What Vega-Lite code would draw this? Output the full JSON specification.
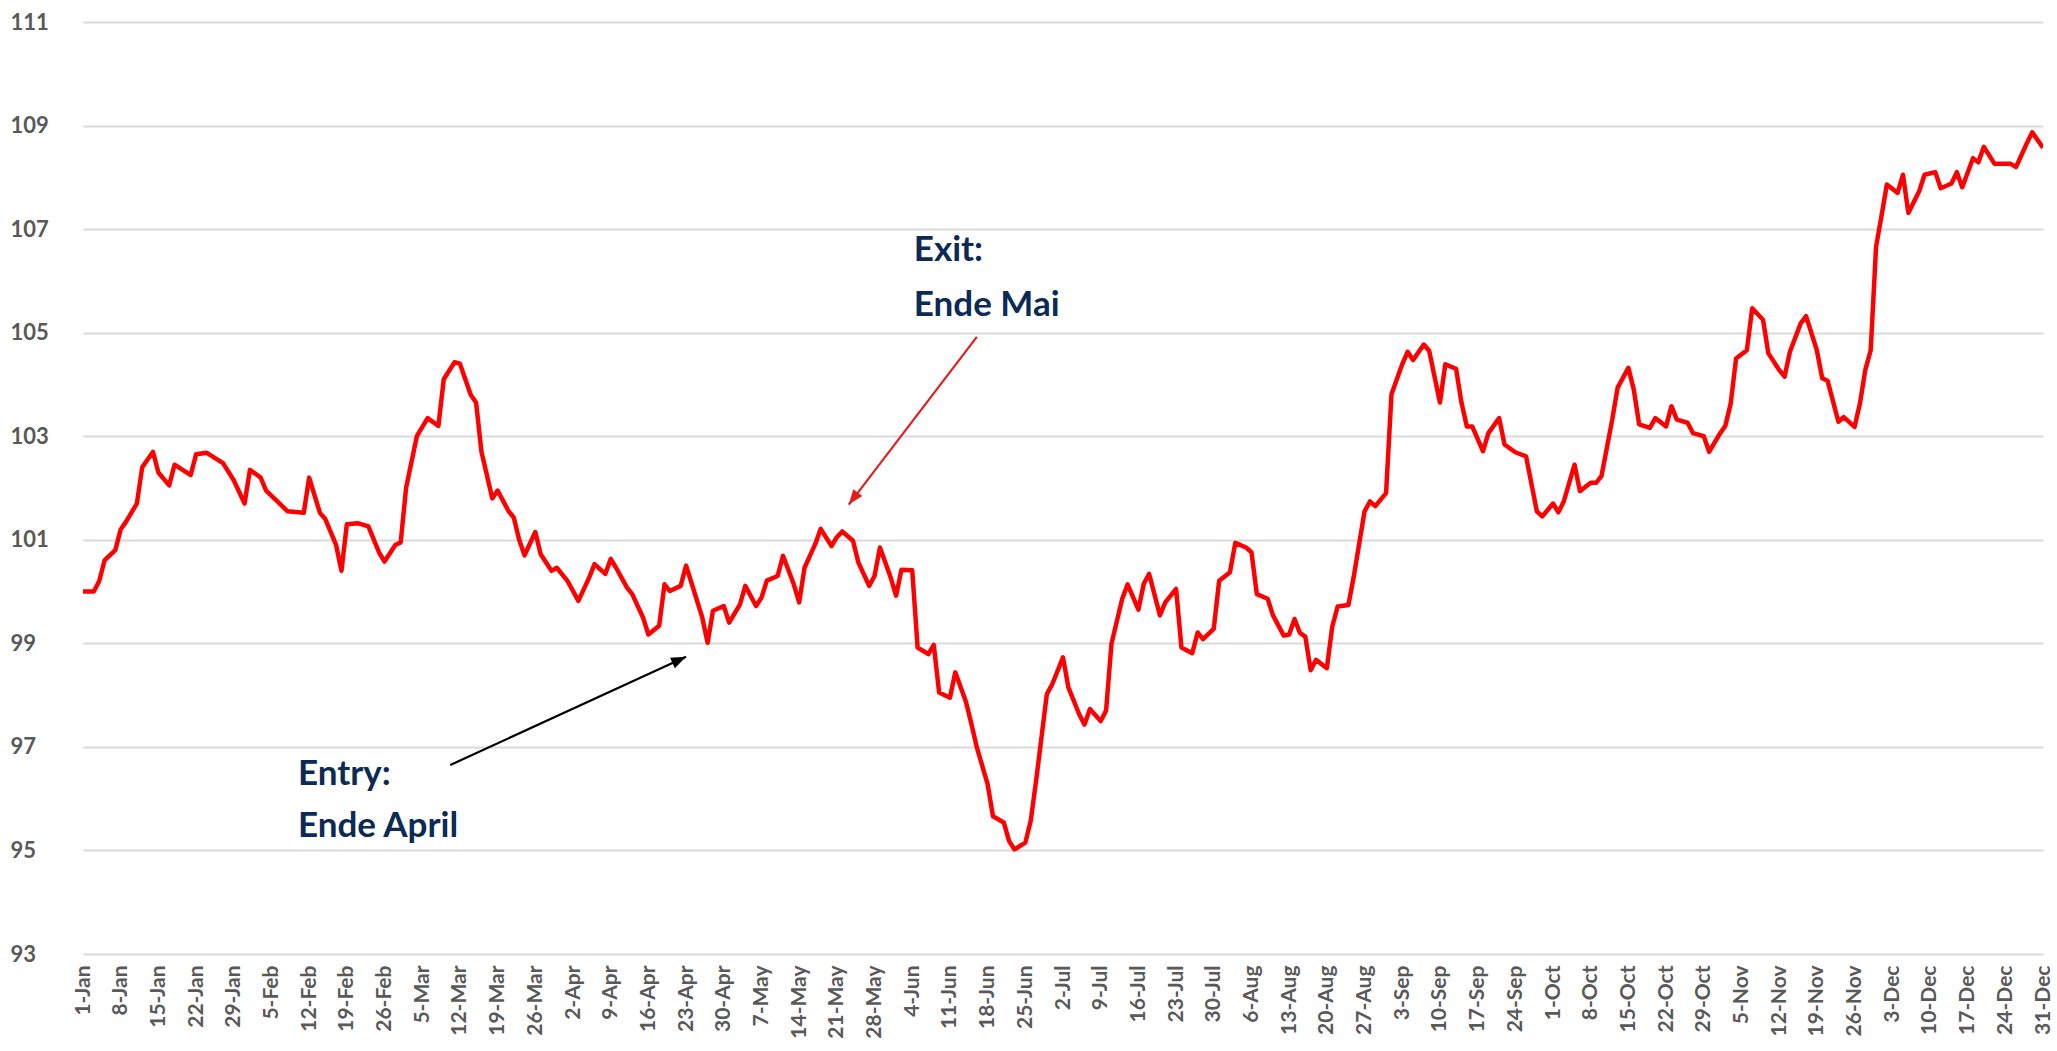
{
  "$schema": "https://vega.github.io/schema/vega-lite/v6.json",
  "width": 1960,
  "height": 932,
  "autosize": "none",
  "padding": {"left": 83, "top": 22, "right": 14, "bottom": 97},
  "background": "white",
  "config": {"view": {"stroke": null}, "axis": {"labelOverlap": false}},
  "layer": [
    {
      "data": {"values": [
        {"date":"2023-01-01","value":100.0},{"date":"2023-01-03","value":100.0},{"date":"2023-01-04","value":100.2},{"date":"2023-01-05","value":100.6},{"date":"2023-01-07","value":100.8},{"date":"2023-01-08","value":101.2},{"date":"2023-01-09","value":101.35},{"date":"2023-01-11","value":101.7},{"date":"2023-01-12","value":102.4},{"date":"2023-01-14","value":102.7},{"date":"2023-01-15","value":102.3},{"date":"2023-01-17","value":102.05},{"date":"2023-01-18","value":102.45},{"date":"2023-01-21","value":102.25},{"date":"2023-01-22","value":102.65},{"date":"2023-01-24","value":102.68},{"date":"2023-01-27","value":102.48},{"date":"2023-01-29","value":102.15},{"date":"2023-01-31","value":101.7},
        {"date":"2023-02-01","value":102.35},{"date":"2023-02-03","value":102.2},{"date":"2023-02-04","value":101.95},{"date":"2023-02-06","value":101.75},{"date":"2023-02-08","value":101.55},{"date":"2023-02-11","value":101.52},{"date":"2023-02-12","value":102.2},{"date":"2023-02-14","value":101.52},{"date":"2023-02-15","value":101.4},{"date":"2023-02-17","value":100.9},{"date":"2023-02-18","value":100.4},{"date":"2023-02-19","value":101.3},{"date":"2023-02-21","value":101.32},{"date":"2023-02-23","value":101.26},{"date":"2023-02-25","value":100.75},{"date":"2023-02-26","value":100.58},{"date":"2023-02-28","value":100.9},
        {"date":"2023-03-01","value":100.95},{"date":"2023-03-02","value":102.0},{"date":"2023-03-04","value":103.0},{"date":"2023-03-06","value":103.35},{"date":"2023-03-08","value":103.2},{"date":"2023-03-09","value":104.1},{"date":"2023-03-11","value":104.43},{"date":"2023-03-12","value":104.4},{"date":"2023-03-14","value":103.8},{"date":"2023-03-15","value":103.65},{"date":"2023-03-16","value":102.7},{"date":"2023-03-18","value":101.8},{"date":"2023-03-19","value":101.95},{"date":"2023-03-21","value":101.56},{"date":"2023-03-22","value":101.43},{"date":"2023-03-23","value":101.0},{"date":"2023-03-24","value":100.7},{"date":"2023-03-26","value":101.15},{"date":"2023-03-27","value":100.72},{"date":"2023-03-29","value":100.4},{"date":"2023-03-30","value":100.46},
        {"date":"2023-04-01","value":100.2},{"date":"2023-04-03","value":99.82},{"date":"2023-04-05","value":100.27},{"date":"2023-04-06","value":100.53},{"date":"2023-04-08","value":100.34},{"date":"2023-04-09","value":100.63},{"date":"2023-04-10","value":100.46},{"date":"2023-04-12","value":100.08},{"date":"2023-04-13","value":99.95},{"date":"2023-04-15","value":99.5},{"date":"2023-04-16","value":99.17},{"date":"2023-04-18","value":99.34},{"date":"2023-04-19","value":100.14},{"date":"2023-04-20","value":100.01},{"date":"2023-04-22","value":100.11},{"date":"2023-04-23","value":100.5},{"date":"2023-04-24","value":100.17},{"date":"2023-04-26","value":99.5},{"date":"2023-04-27","value":99.01},{"date":"2023-04-28","value":99.63},{"date":"2023-04-30","value":99.72},
        {"date":"2023-05-01","value":99.4},{"date":"2023-05-03","value":99.75},{"date":"2023-05-04","value":100.11},{"date":"2023-05-06","value":99.72},{"date":"2023-05-07","value":99.88},{"date":"2023-05-08","value":100.21},{"date":"2023-05-10","value":100.3},{"date":"2023-05-11","value":100.69},{"date":"2023-05-13","value":100.14},{"date":"2023-05-14","value":99.79},{"date":"2023-05-15","value":100.46},{"date":"2023-05-17","value":100.92},{"date":"2023-05-18","value":101.21},{"date":"2023-05-20","value":100.88},{"date":"2023-05-21","value":101.05},{"date":"2023-05-22","value":101.16},{"date":"2023-05-24","value":100.98},{"date":"2023-05-25","value":100.56},{"date":"2023-05-27","value":100.11},{"date":"2023-05-28","value":100.3},{"date":"2023-05-29","value":100.85},{"date":"2023-05-31","value":100.27},
        {"date":"2023-06-01","value":99.92},{"date":"2023-06-02","value":100.42},{"date":"2023-06-04","value":100.41},{"date":"2023-06-05","value":98.92},{"date":"2023-06-07","value":98.79},{"date":"2023-06-08","value":98.97},{"date":"2023-06-09","value":98.05},{"date":"2023-06-11","value":97.95},{"date":"2023-06-12","value":98.44},{"date":"2023-06-14","value":97.86},{"date":"2023-06-15","value":97.44},{"date":"2023-06-16","value":96.99},{"date":"2023-06-18","value":96.28},{"date":"2023-06-19","value":95.66},{"date":"2023-06-21","value":95.54},{"date":"2023-06-22","value":95.18},{"date":"2023-06-23","value":95.02},{"date":"2023-06-25","value":95.15},{"date":"2023-06-26","value":95.57},{"date":"2023-06-27","value":96.34},{"date":"2023-06-29","value":98.02},{"date":"2023-06-30","value":98.21},
        {"date":"2023-07-02","value":98.73},{"date":"2023-07-03","value":98.15},{"date":"2023-07-05","value":97.63},{"date":"2023-07-06","value":97.43},{"date":"2023-07-07","value":97.73},{"date":"2023-07-09","value":97.5},{"date":"2023-07-10","value":97.7},{"date":"2023-07-11","value":98.99},{"date":"2023-07-13","value":99.86},{"date":"2023-07-14","value":100.14},{"date":"2023-07-16","value":99.65},{"date":"2023-07-17","value":100.15},{"date":"2023-07-18","value":100.34},{"date":"2023-07-20","value":99.54},{"date":"2023-07-21","value":99.79},{"date":"2023-07-23","value":100.05},{"date":"2023-07-24","value":98.92},{"date":"2023-07-26","value":98.81},{"date":"2023-07-27","value":99.21},{"date":"2023-07-28","value":99.08},{"date":"2023-07-30","value":99.28},{"date":"2023-07-31","value":100.21},
        {"date":"2023-08-02","value":100.37},{"date":"2023-08-03","value":100.94},{"date":"2023-08-05","value":100.85},{"date":"2023-08-06","value":100.76},{"date":"2023-08-07","value":99.95},{"date":"2023-08-09","value":99.86},{"date":"2023-08-10","value":99.54},{"date":"2023-08-12","value":99.15},{"date":"2023-08-13","value":99.17},{"date":"2023-08-14","value":99.47},{"date":"2023-08-15","value":99.2},{"date":"2023-08-16","value":99.13},{"date":"2023-08-17","value":98.48},{"date":"2023-08-18","value":98.68},{"date":"2023-08-20","value":98.52},{"date":"2023-08-21","value":99.32},{"date":"2023-08-22","value":99.71},{"date":"2023-08-24","value":99.74},{"date":"2023-08-25","value":100.29},{"date":"2023-08-27","value":101.55},{"date":"2023-08-28","value":101.74},{"date":"2023-08-29","value":101.65},{"date":"2023-08-31","value":101.9},
        {"date":"2023-09-01","value":103.81},{"date":"2023-09-03","value":104.39},{"date":"2023-09-04","value":104.63},{"date":"2023-09-05","value":104.47},{"date":"2023-09-07","value":104.77},{"date":"2023-09-08","value":104.65},{"date":"2023-09-10","value":103.65},{"date":"2023-09-11","value":104.39},{"date":"2023-09-13","value":104.3},{"date":"2023-09-14","value":103.65},{"date":"2023-09-15","value":103.19},{"date":"2023-09-16","value":103.19},{"date":"2023-09-18","value":102.71},{"date":"2023-09-19","value":103.06},{"date":"2023-09-21","value":103.35},{"date":"2023-09-22","value":102.84},{"date":"2023-09-24","value":102.69},{"date":"2023-09-26","value":102.61},{"date":"2023-09-28","value":101.55},{"date":"2023-09-29","value":101.45},
        {"date":"2023-10-01","value":101.7},{"date":"2023-10-02","value":101.53},{"date":"2023-10-03","value":101.74},{"date":"2023-10-05","value":102.45},{"date":"2023-10-06","value":101.94},{"date":"2023-10-08","value":102.1},{"date":"2023-10-09","value":102.1},{"date":"2023-10-10","value":102.23},{"date":"2023-10-12","value":103.32},{"date":"2023-10-13","value":103.94},{"date":"2023-10-15","value":104.32},{"date":"2023-10-16","value":103.9},{"date":"2023-10-17","value":103.23},{"date":"2023-10-19","value":103.16},{"date":"2023-10-20","value":103.35},{"date":"2023-10-22","value":103.19},{"date":"2023-10-23","value":103.58},{"date":"2023-10-24","value":103.32},{"date":"2023-10-26","value":103.26},{"date":"2023-10-27","value":103.06},{"date":"2023-10-29","value":103.0},{"date":"2023-10-30","value":102.7},
        {"date":"2023-11-01","value":103.05},{"date":"2023-11-02","value":103.2},{"date":"2023-11-03","value":103.63},{"date":"2023-11-04","value":104.5},{"date":"2023-11-06","value":104.66},{"date":"2023-11-07","value":105.47},{"date":"2023-11-09","value":105.25},{"date":"2023-11-10","value":104.6},{"date":"2023-11-12","value":104.28},{"date":"2023-11-13","value":104.15},{"date":"2023-11-14","value":104.63},{"date":"2023-11-16","value":105.18},{"date":"2023-11-17","value":105.32},{"date":"2023-11-19","value":104.66},{"date":"2023-11-20","value":104.12},{"date":"2023-11-21","value":104.07},{"date":"2023-11-23","value":103.28},{"date":"2023-11-24","value":103.37},{"date":"2023-11-26","value":103.18},{"date":"2023-11-27","value":103.63},{"date":"2023-11-28","value":104.28},{"date":"2023-11-29","value":104.66},{"date":"2023-11-30","value":106.66},
        {"date":"2023-12-01","value":107.25},{"date":"2023-12-02","value":107.86},{"date":"2023-12-04","value":107.7},{"date":"2023-12-05","value":108.05},{"date":"2023-12-06","value":107.31},{"date":"2023-12-08","value":107.73},{"date":"2023-12-09","value":108.05},{"date":"2023-12-11","value":108.1},{"date":"2023-12-12","value":107.79},{"date":"2023-12-14","value":107.88},{"date":"2023-12-15","value":108.1},{"date":"2023-12-16","value":107.81},{"date":"2023-12-18","value":108.37},{"date":"2023-12-19","value":108.29},{"date":"2023-12-20","value":108.59},{"date":"2023-12-22","value":108.26},{"date":"2023-12-23","value":108.26},{"date":"2023-12-25","value":108.26},{"date":"2023-12-26","value":108.2},{"date":"2023-12-28","value":108.66},{"date":"2023-12-29","value":108.87},{"date":"2023-12-31","value":108.57}
      ]},
      "mark": {"type": "line", "color": "#ff0000", "strokeWidth": 4.5, "strokeJoin": "round", "clip": true},
      "encoding": {
        "x": {
          "field": "date", "type": "temporal",
          "scale": {"type": "utc", "domain": [{"year":2023,"month":1,"date":1,"utc":true},{"year":2023,"month":12,"date":31,"utc":true}]},
          "axis": {
            "title": null, "domain": false, "ticks": false, "grid": false,
            "tickCount": {"interval": "week", "step": 1},
            "labelExpr": "utcFormat(datum.value, '%-d-%b')",
            "labelAngle": 270, "labelAlign": "right", "labelBaseline": "middle",
            "labelPadding": 11, "labelOverlap": false, "labelFlush": false, "labelBound": false,
            "labelFont": "Lato", "labelFontWeight": "bold", "labelFontSize": 21, "labelColor": "#595959"
          }
        },
        "y": {
          "field": "value", "type": "quantitative",
          "scale": {"domain": [93, 111], "nice": false, "zero": false},
          "axis": {
            "title": null, "domain": false, "ticks": false,
            "values": [93, 95, 97, 99, 101, 103, 105, 107, 109, 111],
            "grid": true, "gridColor": "#d9d9d9", "gridWidth": 2,
            "labelAlign": "left", "labelPadding": 73, "labelBaseline": "middle",
            "labelFont": "Lato", "labelFontWeight": "bold", "labelFontSize": 22, "labelColor": "#595959"
          }
        }
      }
    },
    {
      "data": {"values": [
        {"x1": "2023-03-10T05:00:00Z", "y1": 96.65, "x2": "2023-04-23T00:00:00Z", "y2": 98.74, "col": "black", "angle": 65.4},
        {"x1": "2023-06-16T00:00:00Z", "y1": 104.92, "x2": "2023-05-23T05:00:00Z", "y2": 101.68, "col": "red", "angle": 217.3}
      ]},
      "layer": [
        {
          "mark": {"type": "rule", "strokeWidth": 2.2},
          "encoding": {
            "x": {"field": "x1", "type": "temporal"},
            "y": {"field": "y1", "type": "quantitative"},
            "x2": {"field": "x2"},
            "y2": {"field": "y2"},
            "color": {"field": "col", "type": "nominal", "scale": {"domain": ["black", "red"], "range": ["#000000", "#e01e1e"]}, "legend": null}
          }
        },
        {
          "mark": {"type": "point", "shape": "M0,0L-0.38,1L0.38,1Z", "filled": true, "size": 900, "opacity": 1},
          "encoding": {
            "x": {"field": "x2", "type": "temporal"},
            "y": {"field": "y2", "type": "quantitative"},
            "angle": {"field": "angle", "type": "quantitative", "scale": null},
            "color": {"field": "col", "type": "nominal", "scale": {"domain": ["black", "red"], "range": ["#000000", "#e01e1e"]}, "legend": null}
          }
        }
      ]
    },
    {
      "data": {"values": [
        {"x": "2023-02-09T22:00:00Z", "y": 96.27, "label": "Entry:"},
        {"x": "2023-02-09T22:00:00Z", "y": 95.26, "label": "Ende April"},
        {"x": "2023-06-04T07:00:00Z", "y": 106.39, "label": "Exit:"},
        {"x": "2023-06-04T07:00:00Z", "y": 105.32, "label": "Ende Mai"}
      ]},
      "mark": {"type": "text", "align": "left", "baseline": "alphabetic", "font": "Lato", "fontWeight": "bold", "fontSize": 35, "color": "#0b2a55"},
      "encoding": {
        "x": {"field": "x", "type": "temporal"},
        "y": {"field": "y", "type": "quantitative"},
        "text": {"field": "label"}
      }
    }
  ]
}
